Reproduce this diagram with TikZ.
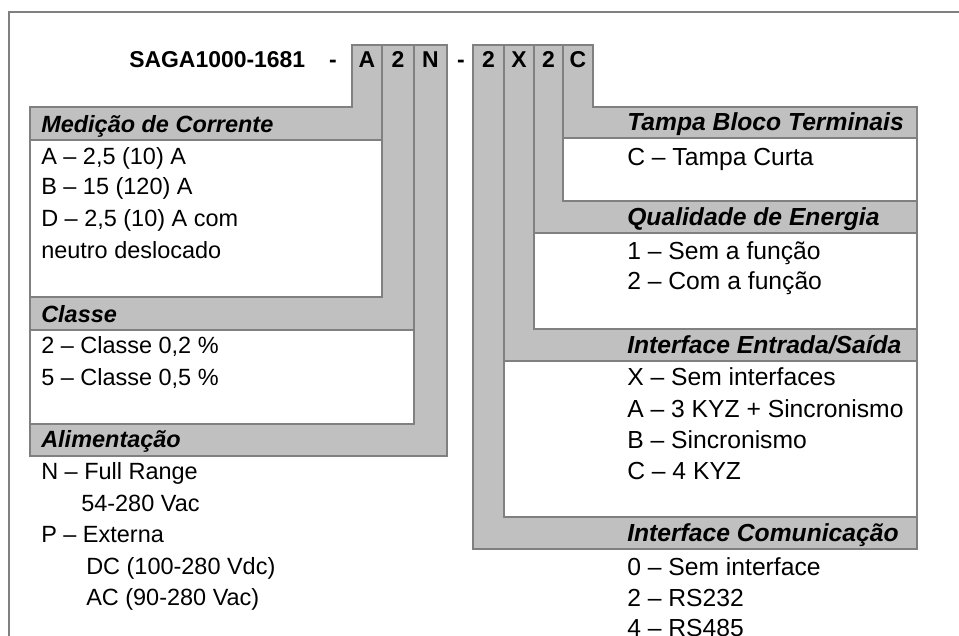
\documentclass[tikz,border=0pt]{standalone}
\usepackage{fontspec}
\setmainfont{Liberation Sans}
\definecolor{barfill}{HTML}{C0C0C0}
\definecolor{barline}{HTML}{808080}
\begin{document}
\begin{tikzpicture}[x=0.75pt,y=-0.75pt,
  bar/.style={fill=barfill,draw=barline,line width=1.5pt,line join=miter},
  contentbox/.style={fill=white,draw=barline,line width=1.5pt},
  txt/.style={anchor=base west,inner sep=0pt,font=\fontsize{17.6}{21}\selectfont},
  hdr/.style={anchor=base west,inner sep=0pt,font=\fontsize{17.6}{21}\selectfont\bfseries\itshape},
  rtxt/.style={anchor=base west,inner sep=0pt,font=\fontsize{18.5}{22}\selectfont},
  rhdr/.style={anchor=base west,inner sep=0pt,font=\fontsize{18.5}{22}\selectfont\bfseries\itshape},
  codetxt/.style={anchor=base,inner sep=0pt,font=\fontsize{17.2}{21}\selectfont\bfseries}]
\useasboundingbox (0,0) rectangle (959,635);
\clip (0,0) rectangle (959,635);
\fill[white] (0,0) rectangle (959,635);
% frame
\draw[barline,line width=1.5pt] (959,12) -- (9,12) -- (9,636);
% left side
\draw[bar] (352,45) -- (382,45) -- (382,140) -- (30,140) -- (30,107) -- (352,107) -- cycle;
\draw[contentbox] (30,140) rectangle (382,297);
\draw[bar] (382,45) -- (414,45) -- (414,330) -- (30,330) -- (30,297) -- (382,297) -- cycle;
\draw[contentbox] (30,330) rectangle (414,424);
\draw[bar] (414,45) -- (447,45) -- (447,456) -- (30,456) -- (30,424) -- (414,424) -- cycle;
% right side
\draw[bar] (563,45) -- (593,45) -- (593,107) -- (917,107) -- (917,138) -- (563,138) -- cycle;
\draw[contentbox] (563,138) rectangle (917,201);
\draw[bar] (534,45) -- (563,45) -- (563,201) -- (917,201) -- (917,233) -- (534,233) -- cycle;
\draw[contentbox] (534,233) rectangle (917,329);
\draw[bar] (504,45) -- (534,45) -- (534,329) -- (917,329) -- (917,361) -- (504,361) -- cycle;
\draw[contentbox] (504,361) rectangle (917,517);
\draw[bar] (473,45) -- (504,45) -- (504,517) -- (917,517) -- (917,549) -- (473,549) -- cycle;
% title and code
\node[codetxt,anchor=base west] (title) at (129,68) {SAGA1000-1681};
\node[codetxt] (d1) at (333,68) {-};
\node[codetxt] (cA) at (367,68) {A};
\node[codetxt] (c2) at (398,68) {2};
\node[codetxt] (cN) at (430.5,68) {N};
\node[codetxt] (d2) at (461,68) {-};
\node[codetxt] (c2b) at (488.5,68) {2};
\node[codetxt] (cX) at (519,68) {X};
\node[codetxt] (c2c) at (548.5,68) {2};
\node[codetxt] (cC) at (578,68) {C};
% left headers and contents
\node[hdr] (h1) at (41,132) {Medição de Corrente};
\node[txt] (t11) at (41,164) {A – 2,5 (10) A};
\node[txt] (t12) at (41,194) {B – 15 (120) A};
\node[txt] (t13) at (41,226) {D – 2,5 (10) A com};
\node[txt] (t14) at (41,258) {neutro deslocado};
\node[hdr] (h2) at (41,322) {Classe};
\node[txt] (t21) at (41,353) {2 – Classe 0,2 \%};
\node[txt] (t22) at (41,385) {5 – Classe 0,5 \%};
\node[hdr] (h3) at (41,447) {Alimentação};
\node[txt] (t31) at (41,479) {N – Full Range};
\node[txt] (t32) at (81,511) {54-280 Vac};
\node[txt] (t33) at (41,542) {P – Externa};
\node[txt] (t34) at (86,574) {DC (100-280 Vdc)};
\node[txt] (t35) at (86,605) {AC (90-280 Vac)};
% right headers and contents
\node[rhdr] (h4) at (627,130) {Tampa Bloco Terminais};
\node[rtxt] (t41) at (627,165) {C – Tampa Curta};
\node[rhdr] (h5) at (627,225) {Qualidade de Energia};
\node[rtxt] (t51) at (627,259) {1 – Sem a função};
\node[rtxt] (t52) at (627,289) {2 – Com a função};
\node[rhdr] (h6) at (627,353) {Interface Entrada/Saída};
\node[rtxt] (t61) at (627,385) {X – Sem interfaces};
\node[rtxt] (t62) at (627,417) {A – 3 KYZ + Sincronismo};
\node[rtxt] (t63) at (627,448) {B – Sincronismo};
\node[rtxt] (t64) at (627,479) {C – 4 KYZ};
\node[rhdr] (h7) at (627,541) {Interface Comunicação};
\node[rtxt] (t71) at (627,575) {0 – Sem interface};
\node[rtxt] (t72) at (627,606) {2 – RS232};
\node[rtxt] (t73) at (627,636) {4 – RS485};
\end{tikzpicture}
\end{document}
